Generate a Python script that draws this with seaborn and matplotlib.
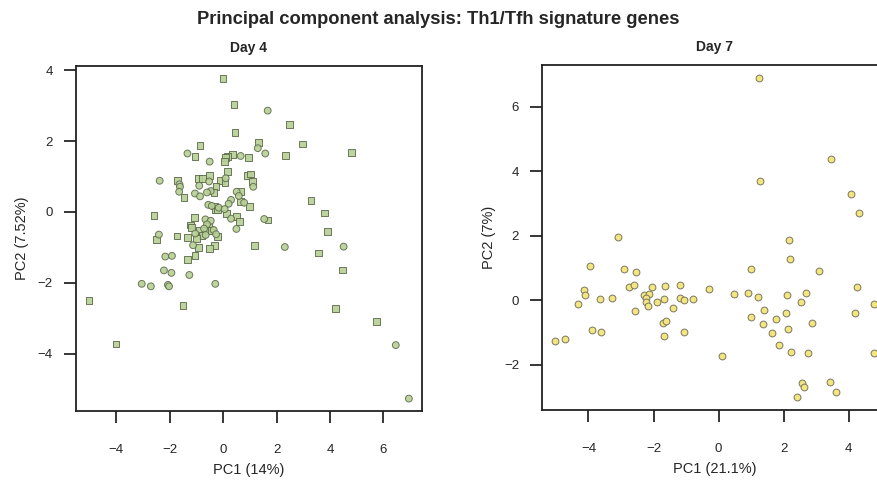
import matplotlib
matplotlib.use("Agg")
import matplotlib.pyplot as plt
import seaborn as sns
import pandas as pd

# ---------------- Data ----------------
# Day 4, square markers
d4_sq_x = [0.00, 0.41, 0.45, 2.49, 1.33, 2.96, -0.86, -1.05, 0.96, 2.33, 0.36, 0.18, 0.09, 0.05,
           0.16, -1.71, -1.46, -0.93, -0.76, -0.50, -0.10, 0.07, -0.26, -0.34, 0.92, 1.02, 1.11,
           4.79, 0.64, 0.64, 1.00, -0.31, -0.29, -0.21, 0.12, 0.51, 0.62, 1.68, 3.29, 3.78, 3.91,
           -2.58, -1.08, -1.21, -1.19, -0.55, -0.89, -0.62, -0.42, -0.79, -0.21, -2.50, -1.72,
           -1.32, -1.00, -0.91, -0.31, -0.50, 1.19, -1.05, -1.32, 3.58, 4.47, -1.50, 4.21, 5.75,
           -5.01, -4.00]
d4_sq_y = [3.77, 3.03, 2.25, 2.46, 1.97, 1.92, 1.87, 1.57, 1.53, 1.59, 1.63, 1.56, 1.53, 1.42,
           1.15, 0.88, 0.40, 0.95, 0.95, 1.03, 0.88, 0.83, 0.71, 0.55, 1.03, 1.07, 0.85,
           1.68, 0.57, 0.29, 0.15, 0.17, 0.08, 0.08, -0.05, -0.13, -0.26, -0.23, 0.33, -0.03, -0.56,
           -0.10, -0.16, -0.37, -0.43, -0.42, -0.52, -0.52, -0.52, -0.67, -0.70, -0.77, -0.68,
           -0.73, -0.74, -1.01, -0.95, -1.04, -0.95, -1.24, -1.35, -1.16, -1.64, -2.65, -2.73, -3.10,
           -2.49, -3.73]
# Day 4, circle markers
d4_ci_x = [1.67, 1.30, -1.33, 0.66, 1.58, -0.50, -2.37, -1.63, -1.61, -1.64, -0.52, -0.89, 0.10,
           -0.46, -0.60, -1.05, -0.86, 1.13, 0.51, 0.59, 0.30, 0.21, 0.79, -0.55, -0.42, -0.16,
           0.06, 0.30, 1.54, 0.50, -0.66, -0.46, -0.60, -0.71, -0.35, -1.04, -0.65, -0.26, -2.40,
           -1.12, 2.31, -2.16, -1.91, -2.21, -1.93, -1.26, -3.04, -2.70, -2.06, -2.02, -0.29, 4.51,
           6.46, 6.95]
d4_ci_y = [2.86, 1.80, 1.65, 1.58, 1.65, 1.42, 0.88, 0.78, 0.71, 0.57, 0.86, 0.74, 0.95,
           0.59, 0.55, 0.52, 0.44, 0.71, 0.57, 0.45, 0.34, 0.23, 0.26, 0.20, 0.17, 0.12,
           0.08, -0.19, -0.20, -0.48, -0.21, -0.25, -0.35, -0.47, -0.51, -0.61, -0.65, -0.63, -0.64,
           -0.94, -0.99, -1.26, -1.24, -1.65, -1.72, -1.78, -2.03, -2.10, -2.06, -2.10, -2.03, -0.98,
           -3.76, -5.27]

# Day 7, circle markers
d7_x = [-3.10, -3.94, -2.90, -2.53, -4.15, -4.11, -4.31, -3.66, -3.29, -2.74, -2.61, -2.06,
        -1.66, -1.18, -2.29, -2.14, -2.24, -2.23, -2.18, -1.90, -1.69, -1.18, -1.05, -0.78,
        -1.40, -2.58, -1.72, -1.61, -1.69, -1.05, -3.89, -3.62, -4.73, -5.04, -0.30, 0.11,
        0.48, 0.91, 1.01, 1.22, 1.41, 0.99, 1.37, 1.76, 1.63, 1.86, 2.16, 2.20, 2.12, 2.07,
        2.14, 2.22, 2.52, 4.33, 3.10, 2.68, 4.26, 4.78, 4.21, 2.87, 2.75, 4.79, 2.56, 2.62,
        2.41, 3.42, 3.62, 1.24, 3.45, 1.28, 4.06]
d7_y = [1.96, 1.05, 0.97, 0.87, 0.32, 0.15, -0.11, 0.03, 0.07, 0.41, 0.46, 0.40,
        0.44, 0.47, 0.16, 0.19, 0.05, -0.07, -0.18, -0.06, 0.02, 0.06, 0.01, 0.03,
        -0.25, -0.34, -0.70, -0.65, -1.12, -0.99, -0.93, -0.99, -1.21, -1.26, 0.33, -1.73,
        0.19, 0.23, 0.97, 0.08, -0.31, -0.53, -0.74, -0.59, -1.03, -1.41, 1.86, 1.28, 0.15, -0.39,
        -0.91, -1.60, -0.05, 2.69, 0.91, 0.23, 0.40, -0.12, -0.40, -0.71, -1.65, -1.64, -2.56, -2.71,
        -3.02, -2.55, -2.86, 6.89, 4.38, 3.68, 3.28]

title = "Principal component analysis: Th1/Tfh signature genes"
panel_titles = ["Day 4", "Day 7"]
xlabels = ["PC1 (14%)", "PC1 (21.1%)"]
ylabels = ["PC2 (7.52%)", "PC2 (7%)"]
x_ticks = [[-4, -2, 0, 2, 4, 6], [-4, -2, 0, 2, 4]]
y_ticks = [[-4, -2, 0, 2, 4], [-2, 0, 2, 4, 6]]

df4 = pd.DataFrame({
    "x": d4_sq_x + d4_ci_x,
    "y": d4_sq_y + d4_ci_y,
    "shape": ["square"] * len(d4_sq_x) + ["circle"] * len(d4_ci_x),
})
df7 = pd.DataFrame({"x": d7_x, "y": d7_y, "shape": ["circle"] * len(d7_x)})

# ---------------- Plot ----------------
sns.set_style("white")
plt.rcParams["font.family"] = ["Liberation Sans", "DejaVu Sans"]

W, H = 877, 484
fig = plt.figure(figsize=(W / 100, H / 100), dpi=100)
ax1 = fig.add_axes([75.7 / W, (H - 411) / H, 346 / W, 345 / H])
ax2 = fig.add_axes([542 / W, (H - 410.3) / H, 345 / W, 345.3 / H])

green = "#b7d095"
green_edge = "#5d6b4c"
yellow = "#f3e67f"
yellow_edge = "#7a7660"

sns.scatterplot(data=df4, x="x", y="y", style="shape",
                markers={"square": "s", "circle": "o"}, color=green,
                edgecolor=green_edge, linewidth=0.7, s=24, alpha=0.9,
                legend=False, ax=ax1)
sns.scatterplot(data=df7, x="x", y="y", marker="o", color=yellow,
                edgecolor=yellow_edge, linewidth=0.7, s=24,
                legend=False, ax=ax2)

ax1.set_xlim(-5.51, 7.43)
ax1.set_ylim(-5.62, 4.12)
ax2.set_xlim(-5.43, 5.18)
ax2.set_ylim(-3.42, 7.29)

for i, ax in enumerate([ax1, ax2]):
    ax.set_xticks(x_ticks[i])
    ax.set_yticks(y_ticks[i])
    ax.set_xlabel(xlabels[i], fontsize=10.5, labelpad=5)
    ax.set_ylabel(ylabels[i], fontsize=10.5, labelpad=6)
    ax.set_title(panel_titles[i], fontsize=10, fontweight="bold", pad=10)
    ax.tick_params(axis="both", direction="out", length=8.5, width=1.1,
                   labelsize=9.5, color="black", bottom=True, left=True)
    ax.tick_params(axis="x", pad=15)
    ax.tick_params(axis="y", pad=8)
    for sp in ax.spines.values():
        sp.set_visible(True)
        sp.set_color("#222222")
        sp.set_linewidth(1.3)
    ax.grid(False)

fig.text(0.5, 1 - 20 / H, title, ha="center", va="center",
         fontsize=13.2, fontweight="bold")

fig.savefig("out.png", dpi=100)
